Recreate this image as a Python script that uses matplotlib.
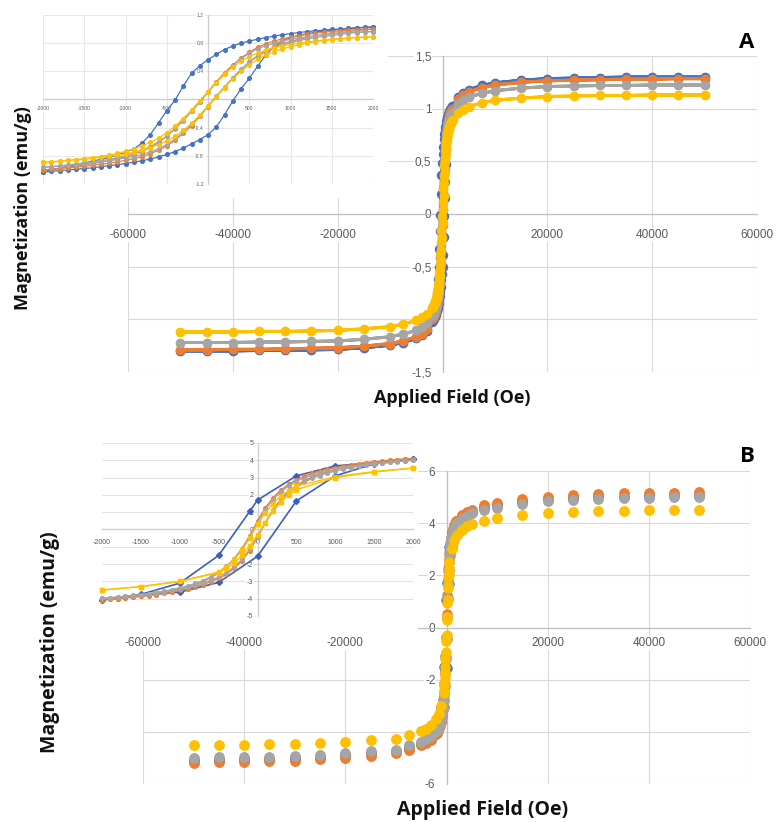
import numpy as np
import matplotlib

matplotlib.use("Agg")
import matplotlib.pyplot as plt
from matplotlib.patches import Rectangle

# ---- measurement grid ---------------------------------------------------
# high-field points (Oe), swept from +50 kOe down to 3 kOe
H_HIGH = [50000, 45000, 40000, 35000, 30000, 25000, 20000, 15000, 10000, 7500, 5000, 4000, 3000]
# low-field points, 100 Oe steps, descending branch order
H_LOW_DN = list(range(2000, -2001, -100))
H_LOW_UP = H_LOW_DN[::-1]

SERIES = ["S1", "S2", "S3", "S4"]
COLORS = ["#4472C4", "#ED7D31", "#A5A5A5", "#FFC000"]

# ---- panel A: M (emu/g) ---------------------------------------------------
A_POS_HIGH = {
    "S1": [1.30, 1.30, 1.30, 1.30, 1.295, 1.29, 1.285, 1.27, 1.245, 1.22, 1.18, 1.15, 1.11],
    "S2": [1.285, 1.285, 1.28, 1.28, 1.275, 1.27, 1.265, 1.25, 1.225, 1.20, 1.16, 1.13, 1.09],
    "S3": [1.225, 1.225, 1.225, 1.22, 1.22, 1.215, 1.21, 1.195, 1.17, 1.145, 1.11, 1.08, 1.04],
    "S4": [1.13, 1.13, 1.13, 1.125, 1.125, 1.12, 1.115, 1.10, 1.08, 1.055, 1.02, 0.99, 0.955],
}
# negative high-field values, ordered -50000 ... -3000
A_NEG_HIGH = {
    "S1": [-1.30, -1.30, -1.30, -1.295, -1.295, -1.29, -1.285, -1.27, -1.245, -1.22, -1.18, -1.15, -1.11],
    "S2": [-1.29, -1.29, -1.285, -1.285, -1.28, -1.275, -1.27, -1.255, -1.23, -1.205, -1.165, -1.135, -1.09],
    "S3": [-1.22, -1.22, -1.22, -1.215, -1.215, -1.21, -1.205, -1.19, -1.165, -1.14, -1.105, -1.075, -1.035],
    "S4": [-1.12, -1.12, -1.12, -1.115, -1.115, -1.11, -1.105, -1.09, -1.07, -1.045, -1.01, -0.98, -0.945],
}
A_LOW_DN = {
    "S1": [1.03, 1.025, 1.02, 1.01, 1.0, 0.995, 0.985, 0.975, 0.965, 0.95, 0.935,
           0.92, 0.9, 0.88, 0.855, 0.83, 0.8, 0.76, 0.71, 0.64, 0.565,
           0.48, 0.37, 0.19, -0.01, -0.16, -0.33, -0.5, -0.62, -0.7, -0.75,
           -0.79, -0.82, -0.85, -0.875, -0.9, -0.925, -0.95, -0.975, -1.0, -1.03],
    "S2": [1.0, 0.995, 0.99, 0.985, 0.975, 0.965, 0.955, 0.94, 0.925, 0.905, 0.885,
           0.86, 0.83, 0.79, 0.74, 0.67, 0.59, 0.49, 0.38, 0.25, 0.11,
           -0.03, -0.16, -0.29, -0.41, -0.52, -0.61, -0.68, -0.735, -0.78, -0.815,
           -0.845, -0.87, -0.89, -0.91, -0.93, -0.945, -0.96, -0.975, -0.99, -1.0],
    "S3": [0.965, 0.96, 0.955, 0.95, 0.94, 0.93, 0.92, 0.905, 0.89, 0.875, 0.855,
           0.83, 0.8, 0.765, 0.72, 0.655, 0.58, 0.48, 0.37, 0.24, 0.1,
           -0.04, -0.17, -0.3, -0.42, -0.52, -0.6, -0.67, -0.72, -0.76, -0.795,
           -0.825, -0.85, -0.87, -0.885, -0.9, -0.915, -0.93, -0.94, -0.955, -0.965],
    "S4": [0.89, 0.885, 0.88, 0.87, 0.865, 0.855, 0.845, 0.83, 0.815, 0.8, 0.78,
           0.76, 0.735, 0.7, 0.66, 0.61, 0.545, 0.46, 0.36, 0.24, 0.11,
           -0.02, -0.15, -0.27, -0.38, -0.47, -0.55, -0.61, -0.66, -0.7, -0.735,
           -0.765, -0.79, -0.81, -0.825, -0.84, -0.855, -0.865, -0.875, -0.885, -0.89],
}
A_LOW_UP = {
    "S1": [-1.03, -1.02, -1.01, -1.0, -0.99, -0.98, -0.97, -0.955, -0.94, -0.925, -0.91,
           -0.89, -0.87, -0.845, -0.815, -0.78, -0.74, -0.69, -0.63, -0.57, -0.5,
           -0.39, -0.22, -0.02, 0.15, 0.3, 0.47, 0.63, 0.75, 0.83, 0.88,
           0.91, 0.935, 0.955, 0.97, 0.985, 0.995, 1.005, 1.015, 1.02, 1.03],
    "S2": [-1.0, -0.99, -0.98, -0.97, -0.96, -0.95, -0.935, -0.92, -0.905, -0.885, -0.865,
           -0.84, -0.81, -0.77, -0.72, -0.66, -0.58, -0.48, -0.37, -0.24, -0.1,
           0.04, 0.17, 0.3, 0.42, 0.53, 0.62, 0.69, 0.745, 0.79, 0.825,
           0.855, 0.88, 0.9, 0.92, 0.935, 0.95, 0.965, 0.98, 0.99, 1.0],
    "S3": [-0.965, -0.955, -0.945, -0.935, -0.925, -0.915, -0.9, -0.885, -0.87, -0.85, -0.83,
           -0.81, -0.78, -0.745, -0.7, -0.64, -0.56, -0.465, -0.355, -0.23, -0.09,
           0.05, 0.18, 0.31, 0.43, 0.53, 0.61, 0.68, 0.73, 0.77, 0.805,
           0.835, 0.86, 0.88, 0.895, 0.91, 0.925, 0.94, 0.95, 0.96, 0.965],
    "S4": [-0.89, -0.885, -0.875, -0.865, -0.855, -0.845, -0.835, -0.82, -0.805, -0.79, -0.77,
           -0.75, -0.72, -0.685, -0.64, -0.59, -0.52, -0.44, -0.34, -0.22, -0.09,
           0.04, 0.17, 0.29, 0.4, 0.49, 0.57, 0.63, 0.68, 0.72, 0.75,
           0.775, 0.8, 0.82, 0.835, 0.85, 0.86, 0.87, 0.88, 0.885, 0.89],
}

# ---- panel B: M (emu/g) ---------------------------------------------------
B_POS_HIGH = {
    "S1": [5.05, 5.04, 5.03, 5.01, 4.99, 4.95, 4.9, 4.82, 4.68, 4.6, 4.43, 4.34, 4.22],
    "S2": [5.18, 5.17, 5.16, 5.14, 5.12, 5.08, 5.02, 4.93, 4.79, 4.7, 4.52, 4.42, 4.3],
    "S3": [5.0, 4.99, 4.98, 4.96, 4.94, 4.9, 4.85, 4.75, 4.6, 4.52, 4.38, 4.28, 4.15],
    "S4": [4.52, 4.51, 4.5, 4.48, 4.46, 4.43, 4.4, 4.32, 4.18, 4.1, 3.97, 3.88, 3.75],
}
B_NEG_HIGH = {
    "S1": [-5.08, -5.07, -5.05, -5.03, -5.0, -4.96, -4.9, -4.83, -4.73, -4.6, -4.45, -4.35, -4.22],
    "S2": [-5.18, -5.17, -5.15, -5.13, -5.1, -5.05, -5.0, -4.92, -4.8, -4.7, -4.52, -4.42, -4.3],
    "S3": [-4.99, -4.98, -4.97, -4.95, -4.92, -4.88, -4.82, -4.75, -4.68, -4.52, -4.38, -4.28, -4.15],
    "S4": [-4.51, -4.5, -4.49, -4.47, -4.45, -4.42, -4.38, -4.33, -4.27, -4.13, -3.97, -3.88, -3.75],
}
B_LOW_DN = {
    "S2": [4.1, 4.07, 4.04, 4.0, 3.96, 3.92, 3.87, 3.81, 3.74, 3.66, 3.57,
           3.48, 3.37, 3.24, 3.08, 2.88, 2.62, 2.28, 1.83, 1.25, 0.5,
           -0.35, -1.1, -1.7, -2.15, -2.5, -2.78, -3.0, -3.17, -3.31, -3.43,
           -3.53, -3.62, -3.7, -3.77, -3.83, -3.89, -3.94, -3.99, -4.03, -4.07],
    "S3": [4.0, 3.97, 3.94, 3.9, 3.86, 3.82, 3.77, 3.71, 3.64, 3.56, 3.47,
           3.38, 3.27, 3.14, 2.98, 2.78, 2.52, 2.18, 1.73, 1.15, 0.42,
           -0.4, -1.12, -1.7, -2.13, -2.47, -2.74, -2.95, -3.12, -3.26, -3.37,
           -3.47, -3.56, -3.63, -3.7, -3.76, -3.81, -3.86, -3.9, -3.94, -3.98],
}
B_LOW_UP = {
    "S2": [-4.07, -4.04, -4.0, -3.96, -3.92, -3.87, -3.82, -3.76, -3.69, -3.61, -3.52,
           -3.42, -3.31, -3.18, -3.02, -2.83, -2.58, -2.25, -1.8, -1.22, -0.45,
           0.4, 1.15, 1.75, 2.2, 2.55, 2.82, 3.03, 3.2, 3.34, 3.46,
           3.57, 3.66, 3.74, 3.81, 3.87, 3.93, 3.98, 4.03, 4.07, 4.1],
    "S3": [-3.98, -3.95, -3.91, -3.87, -3.83, -3.78, -3.73, -3.67, -3.6, -3.52, -3.43,
           -3.33, -3.22, -3.09, -2.93, -2.74, -2.49, -2.16, -1.72, -1.15, -0.42,
           0.38, 1.1, 1.68, 2.12, 2.46, 2.73, 2.95, 3.12, 3.26, 3.38,
           3.48, 3.57, 3.65, 3.72, 3.78, 3.83, 3.88, 3.92, 3.96, 4.0],
}
# S1 and S4 in panel B were measured on a coarser low-field grid
B_S1_H_DN = [2000, 1500, 1000, 500, 0, -100, -500, -1000, -1500, -2000]
B_S1_M_DN = [4.05, 3.85, 3.68, 3.1, 1.7, 1.05, -1.5, -3.1, -3.75, -4.05]
B_S1_H_UP = [-2000, -1500, -1000, -500, 0, 500, 1000, 1500, 2000]
B_S1_M_UP = [-4.05, -3.8, -3.62, -3.06, -1.55, 1.65, 3.1, 3.8, 4.05]
B_S4_H_DN = [2000, 1500, 1000, 500, 400, 300, 200, 100, 0, -100, -200, -300, -400, -500, -1000, -1500, -2000]
B_S4_M_DN = [3.55, 3.35, 3.05, 2.5, 2.25, 1.95, 1.5, 0.95, 0.3, -0.5, -1.2, -1.75, -2.15, -2.45, -3.0, -3.3, -3.5]
B_S4_H_UP = [-2000, -1500, -1000, -500, -400, -300, -200, -100, 0, 100, 200, 300, 400, 500, 1000, 1500, 2000]
B_S4_M_UP = [-3.5, -3.3, -3.0, -2.5, -2.25, -1.95, -1.5, -0.95, -0.3, 0.4, 1.05, 1.6, 2.0, 2.3, 3.0, 3.32, 3.55]

MAIN_XTICKS = [-60000, -40000, -20000, 0, 20000, 40000, 60000]
A_YTICKS = [-1.5, -1.0, -0.5, 0, 0.5, 1.0, 1.5]
A_YLABELS = ["-1,5", "-1", "-0,5", "0", "0,5", "1", "1,5"]
B_YTICKS = [-6, -4, -2, 0, 2, 4, 6]
A_INSET_YTICKS = [-1.2, -0.8, -0.4, 0, 0.4, 0.8, 1.2]
INSET_XTICKS = [-2000, -1500, -1000, -500, 0, 500, 1000, 1500, 2000]
B_INSET_YTICKS = [-5, -4, -3, -2, -1, 0, 1, 2, 3, 4, 5]

TICK_FONT = ["Liberation Sans", "DejaVu Sans"]
LABEL_FONT = ["Open Sans", "DejaVu Sans"]
GRID = "#D9D9D9"
AXIS = "#BFBFBF"
TICK_COLOR = "#595959"

W, H = 777, 822
fig = plt.figure(figsize=(W / 100, H / 100), dpi=100)


def px_axes(x0, y0, x1, y1, z=0):
    return fig.add_axes([x0 / W, 1 - y1 / H, (x1 - x0) / W, (y1 - y0) / H], zorder=z)


def white_box(x0, y0, x1, y1, z):
    fig.patches.append(Rectangle((x0 / W, 1 - y1 / H), (x1 - x0) / W, (y1 - y0) / H,
                                 transform=fig.transFigure, facecolor="white",
                                 edgecolor="none", zorder=z))


def excel_axes(ax, xlim, ylim, xticks, xlabels, yticks, ylabels, fs, xpad, ypad,
               grid_color=GRID, vgrid=True, axis_color=AXIS):
    ax.set_xlim(*xlim)
    ax.set_ylim(*ylim)
    ax.patch.set_alpha(0)
    for side in ("top", "right"):
        ax.spines[side].set_visible(False)
    for side in ("left", "bottom"):
        ax.spines[side].set_position(("data", 0))
        ax.spines[side].set_color(axis_color)
        ax.spines[side].set_linewidth(0.9)
        ax.spines[side].set_zorder(0.6)
    ax.set_xticks(xticks)
    ax.set_xticklabels(xlabels)
    ax.set_yticks(yticks)
    ax.set_yticklabels(ylabels)
    ax.tick_params(axis="x", length=0, pad=xpad, labelsize=fs, labelcolor=TICK_COLOR)
    ax.tick_params(axis="y", length=0, pad=ypad, labelsize=fs, labelcolor=TICK_COLOR)
    ax.grid(True, axis="y", color=grid_color, lw=0.8)
    if vgrid:
        ax.grid(True, axis="x", color=grid_color, lw=0.8)
    ax.set_axisbelow(True)
    for lab in ax.get_xticklabels() + ax.get_yticklabels():
        lab.set_family(TICK_FONT)
        lab.set_bbox(dict(facecolor="white", edgecolor="none", pad=0.6))


def full_loop(pos_hi, low_h_dn, low_dn, neg_hi, low_h_up, low_up):
    """Stitch a full +50 kOe -> -50 kOe -> +50 kOe sweep."""
    neg_h_asc = [-h for h in H_HIGH]          # -50000 ... -3000
    h = (list(H_HIGH) + list(low_h_dn) + neg_h_asc[::-1]
         + neg_h_asc + list(low_h_up) + list(H_HIGH[::-1]))
    m = (list(pos_hi) + list(low_dn) + list(neg_hi[::-1])
         + list(neg_hi) + list(low_up) + list(pos_hi[::-1]))
    return h, m


# ===================== panel A ==========================================
axA = px_axes(128, 56, 757, 372, z=0)
excel_axes(axA, (-60000, 60000), (-1.5, 1.5), MAIN_XTICKS, [str(v) for v in MAIN_XTICKS],
           A_YTICKS, A_YLABELS, 8.5, 11, 8)
for s, c in zip(SERIES, COLORS):
    h, m = full_loop(A_POS_HIGH[s], H_LOW_DN, A_LOW_DN[s], A_NEG_HIGH[s], H_LOW_UP, A_LOW_UP[s])
    axA.plot(h, m, color=c, lw=2.2, marker="o", ms=5.8, mec=c, mfc=c, zorder=2)

white_box(35, 3, 388, 198, z=1)
insA = px_axes(43, 15, 373, 184, z=2)
excel_axes(insA, (-2000, 2000), (-1.2, 1.2), INSET_XTICKS, [str(v) for v in INSET_XTICKS],
           A_INSET_YTICKS, [f"{v:g}" for v in A_INSET_YTICKS], 3.6, 5, 3,
           grid_color="#E8E8E8", axis_color="#CCCCCC")
for s, c in zip(SERIES, COLORS):
    insA.plot(H_LOW_DN, A_LOW_DN[s], color=c, lw=0.9, marker="o", ms=2.6, mec=c, mfc=c,
              zorder=2, clip_on=False)
    insA.plot(H_LOW_UP, A_LOW_UP[s], color=c, lw=0.9, marker="o", ms=2.6, mec=c, mfc=c,
              zorder=2, clip_on=False)

# ===================== panel B ==========================================
axB = px_axes(143, 471, 750, 784, z=0)
excel_axes(axB, (-60000, 60000), (-6, 6), MAIN_XTICKS, [str(v) for v in MAIN_XTICKS],
           B_YTICKS, [str(v) for v in B_YTICKS], 8.5, 7, 8)
b_low = {
    "S1": (B_S1_H_DN, B_S1_M_DN, B_S1_H_UP, B_S1_M_UP),
    "S2": (H_LOW_DN, B_LOW_DN["S2"], H_LOW_UP, B_LOW_UP["S2"]),
    "S3": (H_LOW_DN, B_LOW_DN["S3"], H_LOW_UP, B_LOW_UP["S3"]),
    "S4": (B_S4_H_DN, B_S4_M_DN, B_S4_H_UP, B_S4_M_UP),
}
for s, c in zip(SERIES, COLORS):
    hd, md, hu, mu = b_low[s]
    h, m = full_loop(B_POS_HIGH[s], hd, md, B_NEG_HIGH[s], hu, mu)
    axB.plot(h, m, ls="none", marker="o", ms=6.5, mec=c, mfc=c, zorder=2)

white_box(90, 433, 418, 636, z=1)
insB = px_axes(102, 443, 413, 616, z=2)
excel_axes(insB, (-2000, 2000), (-5, 5), INSET_XTICKS, [str(v) for v in INSET_XTICKS],
           B_INSET_YTICKS, [str(v) for v in B_INSET_YTICKS], 5, 7, 3,
           grid_color="#E3E3E3", vgrid=False, axis_color="#CCCCCC")
inset_style = {
    "S1": dict(marker="D", ms=3.0, lw=1.2),
    "S2": dict(marker="o", ms=2.6, lw=1.0),
    "S3": dict(marker="o", ms=2.6, lw=1.0),
    "S4": dict(marker="s", ms=3.0, lw=1.0),
}
for s, c in zip(SERIES, COLORS):
    hd, md, hu, mu = b_low[s]
    st = inset_style[s]
    col = "#3A5FC4" if s == "S1" else c
    for hh, mm in ((hd, md), (hu, mu)):
        insB.plot(hh, mm, color=col, mec=col, mfc=col, zorder=2, clip_on=False, **st)

# ===================== labels ===========================================
def fig_text(x, y, s, **kw):
    fig.text(x / W, 1 - y / H, s, ha="center", va="center", **kw)


fig_text(23, 208, "Magnetization (emu/g)", rotation=90, fontsize=13, fontweight="bold",
         family=LABEL_FONT, color="#111111")
fig_text(452, 398, "Applied Field (Oe)", fontsize=13, fontweight="bold",
         family=LABEL_FONT, color="#111111")
fig_text(747, 42, "A", fontsize=16, fontweight="bold", family=LABEL_FONT)

fig_text(50, 642, "Magnetization (emu/g)", rotation=90, fontsize=14, fontweight="bold",
         family=LABEL_FONT, color="#111111")
fig_text(483, 810, "Applied Field (Oe)", fontsize=14, fontweight="bold",
         family=LABEL_FONT, color="#111111")
fig_text(747, 456, "B", fontsize=16, fontweight="bold", family=LABEL_FONT)

fig.savefig("out.png", dpi=100, facecolor="white")
